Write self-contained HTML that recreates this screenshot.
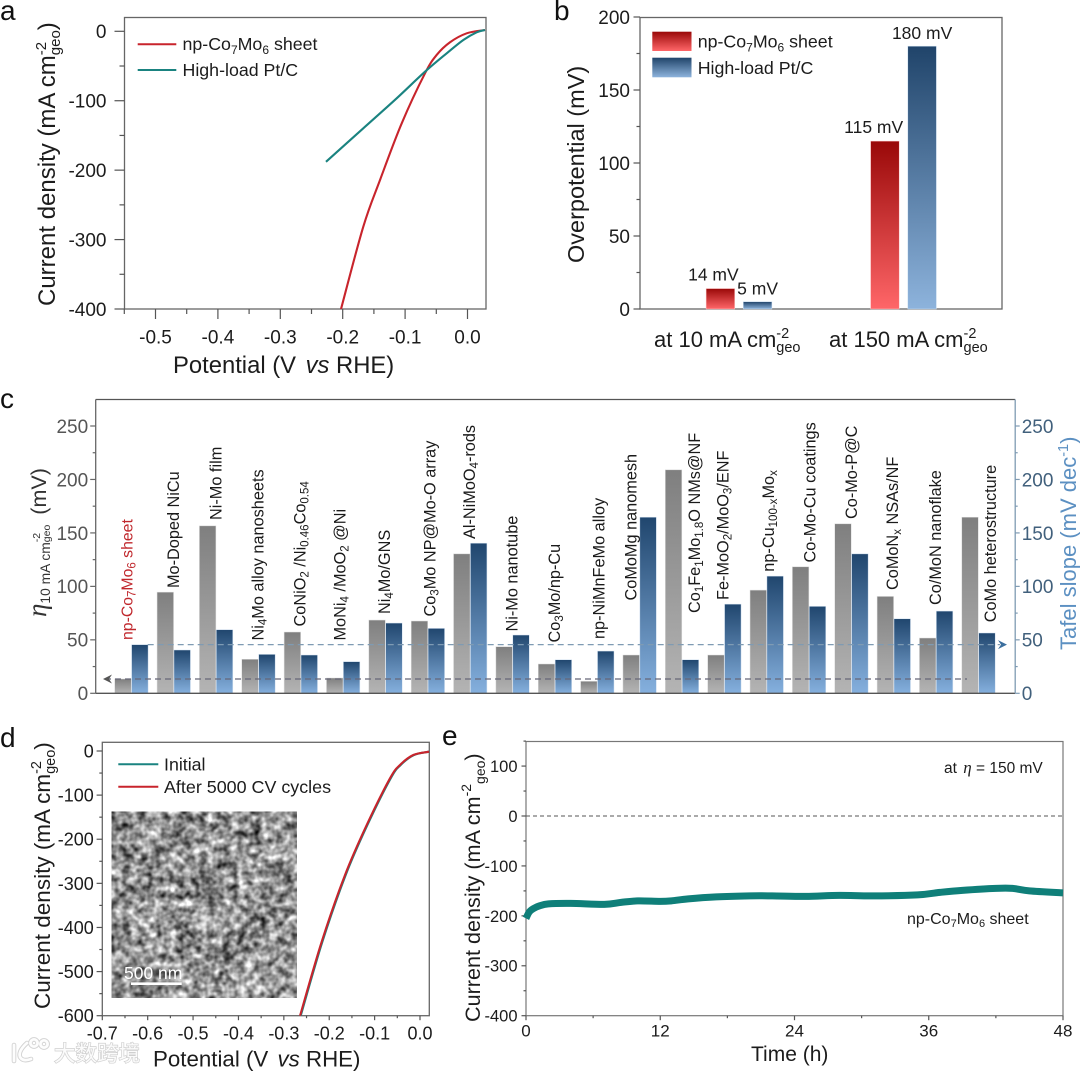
<!DOCTYPE html>
<html lang="en">
<head>
<meta charset="utf-8">
<title>Electrocatalyst performance panels</title>
<style>
html,body{margin:0;padding:0;background:#fff;}
svg{display:block;font-family:"Liberation Sans","Noto Sans CJK SC",sans-serif;fill:#1c1c1c;}
.cl{font-size:16.3px;fill:#1a1a1a;}
.pl{font-size:28px;fill:#111;}
.leg{font-size:17.8px;}
</style>
</head>
<body>
<svg id="figure" width="1080" height="1072" viewBox="0 0 1080 1072" xmlns="http://www.w3.org/2000/svg">
<defs>
<linearGradient id="gRed" x1="0" y1="0" x2="0" y2="1"><stop offset="0" stop-color="#990808"/><stop offset="1" stop-color="#ff6668"/></linearGradient>
<linearGradient id="gBlue" x1="0" y1="0" x2="0" y2="1"><stop offset="0" stop-color="#20446a"/><stop offset="1" stop-color="#8db3dc"/></linearGradient>
<linearGradient id="gGray" x1="0" y1="0" x2="0" y2="1"><stop offset="0" stop-color="#7f7f7f"/><stop offset="1" stop-color="#b4b4b4"/></linearGradient>
<linearGradient id="gBlueC" x1="0" y1="0" x2="0" y2="1"><stop offset="0" stop-color="#20466e"/><stop offset="1" stop-color="#85b0de"/></linearGradient>
<filter id="sem" x="0" y="0" width="100%" height="100%" color-interpolation-filters="sRGB">
<feTurbulence type="fractalNoise" baseFrequency="0.13" numOctaves="2" seed="11" result="fine"/>
<feTurbulence type="fractalNoise" baseFrequency="0.03" numOctaves="2" seed="4" result="coarse"/>
<feComposite in="fine" in2="coarse" operator="arithmetic" k1="0" k2="0.75" k3="0.25" k4="0"/>
<feColorMatrix type="matrix" values="1.7 0 0 0 -0.28  1.7 0 0 0 -0.28  1.7 0 0 0 -0.28  0 0 0 0 1"/>
</filter>
</defs>
<rect x="0" y="0" width="1080" height="1072" fill="#fff"/>

<text class="pl" x="0" y="20">a</text>
<text class="pl" x="554" y="20">b</text>
<text class="pl" x="0" y="408">c</text>
<text class="pl" x="0" y="747">d</text>
<text class="pl" x="442" y="745">e</text>

<g id="panelA">
<text transform="translate(55,306) rotate(-90)" font-size="24">Current density (mA cm<tspan dy="-9" font-size="15">-2</tspan><tspan dx="-13.3" dy="14" font-size="15">geo</tspan><tspan dy="-5">)</tspan></text>
<text x="173" y="373" font-size="23.8">Potential (V <tspan dx="3" font-style="italic">vs</tspan> RHE)</text>
<line x1="137.7" y1="44.3" x2="176.3" y2="44.3" stroke="#c8242c" stroke-width="2"/>
<line x1="137.7" y1="70" x2="176.3" y2="70" stroke="#1a8380" stroke-width="2"/>
<text class="leg" x="182.5" y="50">np-Co<tspan dy="4" font-size="12">7</tspan><tspan dy="-4">Mo</tspan><tspan dy="4" font-size="12">6</tspan><tspan dy="-4"> sheet</tspan></text>
<text class="leg" x="182.5" y="76">High-load Pt/C</text>
</g>

<g id="panelB">
<text transform="translate(584,263) rotate(-90)" font-size="23.5">Overpotential (mV)</text>
<rect x="652.3" y="31.7" width="39.2" height="19.3" fill="url(#gRed)"/>
<rect x="652.3" y="57.7" width="39.2" height="19.6" fill="url(#gBlue)"/>
<text class="leg" x="697.7" y="47.5">np-Co<tspan dy="4" font-size="12">7</tspan><tspan dy="-4">Mo</tspan><tspan dy="4" font-size="12">6</tspan><tspan dy="-4"> sheet</tspan></text>
<text class="leg" x="697.7" y="74">High-load Pt/C</text>
<text x="654" y="347" font-size="22">at 10 mA cm<tspan dy="-9" font-size="14.5">-2</tspan><tspan dx="-12.9" dy="14" font-size="14.5">geo</tspan></text>
<text x="829" y="347" font-size="22">at 150 mA cm<tspan dy="-9" font-size="14.5">-2</tspan><tspan dx="-12.9" dy="14" font-size="14.5">geo</tspan></text>
</g>

<g id="panelC">
<text transform="translate(46,617) rotate(-90)" font-size="21.5" fill="#333"><tspan font-family="Liberation Serif" font-style="italic" font-size="27">&#951;</tspan><tspan dy="4" font-size="13.8">10 mA cm</tspan><tspan dy="-10" font-size="10.5">-2</tspan><tspan dx="-9.3" dy="10" font-size="10.5">geo</tspan><tspan dy="-4" dx="10">(mV)</tspan></text>
<text transform="translate(1076,650) rotate(-90)" font-size="22" fill="#5c90c2">Tafel slope (mV dec<tspan dy="-8" font-size="14.5">-1</tspan><tspan dy="8">)</tspan></text>
<g id="cBars"></g>
<g id="cLabels">
<text class="cl" transform="translate(132.6,640) rotate(-90)" style="fill:#c0282d;font-size:15.8px">np-Co<tspan dy="3" font-size="11.5">7</tspan><tspan dy="-3">Mo</tspan><tspan dy="3" font-size="11.5">6</tspan><tspan dy="-3"> sheet</tspan></text>
<text class="cl" transform="translate(179,588) rotate(-90)">Mo-Doped NiCu</text>
<text class="cl" transform="translate(221.4,520) rotate(-90)">Ni-Mo film</text>
<text class="cl" transform="translate(263.4,640.5) rotate(-90)">Ni<tspan dy="3" font-size="11.5">4</tspan><tspan dy="-3">Mo alloy nanosheets</tspan></text>
<text class="cl" transform="translate(305.4,626.5) rotate(-90)">CoNiO<tspan dy="3" font-size="11.5">2</tspan><tspan dy="-3"> /Ni</tspan><tspan dy="3" font-size="11.5">0.46</tspan><tspan dy="-3">Co</tspan><tspan dy="3" font-size="11.5">0.54</tspan></text>
<text class="cl" transform="translate(345.4,640.5) rotate(-90)">MoNi<tspan dy="3" font-size="11.5">4</tspan><tspan dy="-3"> /MoO</tspan><tspan dy="3" font-size="11.5">2</tspan><tspan dy="-3"> @Ni</tspan></text>
<text class="cl" transform="translate(390,614) rotate(-90)">Ni<tspan dy="3" font-size="11.5">4</tspan><tspan dy="-3">Mo/GNS</tspan></text>
<text class="cl" transform="translate(435.6,616.5) rotate(-90)">Co<tspan dy="3" font-size="11.5">3</tspan><tspan dy="-3">Mo NP@Mo-O array</tspan></text>
<text class="cl" transform="translate(475,539) rotate(-90)">Al-NiMoO<tspan dy="3" font-size="11.5">4</tspan><tspan dy="-3">-rods</tspan></text>
<text class="cl" transform="translate(517.6,631.5) rotate(-90)">Ni-Mo nanotube</text>
<text class="cl" transform="translate(560,642.5) rotate(-90)">Co<tspan dy="3" font-size="11.5">3</tspan><tspan dy="-3">Mo/np-Cu</tspan></text>
<text class="cl" transform="translate(604.4,639) rotate(-90)">np-NiMnFeMo alloy</text>
<text class="cl" transform="translate(636.4,600.5) rotate(-90)">CoMoMg nanomesh</text>
<text class="cl" transform="translate(700,613) rotate(-90)">Co<tspan dy="3" font-size="11.5">1</tspan><tspan dy="-3">Fe</tspan><tspan dy="3" font-size="11.5">1</tspan><tspan dy="-3">Mo</tspan><tspan dy="3" font-size="11.5">1.8</tspan><tspan dy="-3">O NMs@NF</tspan></text>
<text class="cl" transform="translate(728.7,600) rotate(-90)">Fe-MoO<tspan dy="3" font-size="11.5">2</tspan><tspan dy="-3">/MoO</tspan><tspan dy="3" font-size="11.5">3</tspan><tspan dy="-3">/ENF</tspan></text>
<text class="cl" transform="translate(774,571.7) rotate(-90)">np-Cu<tspan dy="3" font-size="11.5">100-x</tspan><tspan dy="-3">Mo</tspan><tspan dy="3" font-size="11.5">x</tspan></text>
<text class="cl" transform="translate(815.5,562.5) rotate(-90)">Co-Mo-Cu coatings</text>
<text class="cl" transform="translate(856.8,519) rotate(-90)">Co-Mo-P@C</text>
<text class="cl" transform="translate(898,590) rotate(-90)">CoMoN<tspan dy="3" font-size="11.5">x</tspan><tspan dy="-3"> NSAs/NF</tspan></text>
<text class="cl" transform="translate(941,605) rotate(-90)">Co/MoN nanoflake</text>
<text class="cl" transform="translate(996,622.3) rotate(-90)">CoMo heterostructure</text>
</g>
</g>

<g id="panelD">
<text transform="translate(50,1009) rotate(-90)" font-size="22.5">Current density (mA cm<tspan dy="-9" font-size="14.5">-2</tspan><tspan dx="-12.9" dy="14" font-size="14.5">geo</tspan><tspan dy="-5">)</tspan></text>
<text x="153" y="1066.5" font-size="22.3">Potential (V <tspan dx="3" font-style="italic">vs</tspan> RHE)</text>
<rect x="111.7" y="811.7" width="185" height="186" fill="#999" filter="url(#sem)"/>
<line x1="131" y1="983.7" x2="181.7" y2="983.7" stroke="#fff" stroke-width="2.6"/>
<text x="124" y="979" font-size="17.5" style="fill:#fff">500 nm</text>
<line x1="118.3" y1="764.3" x2="158.3" y2="764.3" stroke="#1a8380" stroke-width="2"/>
<line x1="118.3" y1="786.7" x2="158.3" y2="786.7" stroke="#c8242c" stroke-width="2"/>
<text x="164" y="770.5" font-size="17.8">Initial</text>
<text x="164" y="793" font-size="17.9">After 5000 CV cycles</text>
</g>

<g id="panelE">
<text transform="translate(480,1022) rotate(-90)" font-size="21.6">Current density (mA cm<tspan dy="-9" font-size="14">-2</tspan><tspan dy="14" font-size="14">geo</tspan><tspan dy="-5">)</tspan></text>
<text x="751" y="1061" font-size="21">Time (h)</text>
<text x="944" y="773" font-size="15.5">at <tspan font-family="Liberation Serif" font-style="italic" font-size="17" dx="2">&#951;</tspan> = 150 mV</text>
<text x="907" y="924" font-size="16">np-Co<tspan dy="3" font-size="11">7</tspan><tspan dy="-3">Mo</tspan><tspan dy="3" font-size="11">6</tspan><tspan dy="-3"> sheet</tspan></text>
</g>

<g>
<g fill="none" stroke="#d2d2d2" stroke-width="4.6" stroke-linecap="round">
<path d="M14 1045 L14 1061"/><path d="M27 1043 Q18 1051 20 1057 Q23 1062 31 1059"/>
<circle cx="34" cy="1043" r="3.6"/><circle cx="44" cy="1044" r="3.6"/>
</g>
<g fill="none" stroke="#fdfdfd" stroke-width="2.8" stroke-linecap="round">
<path d="M14 1045 L14 1061"/><path d="M27 1043 Q18 1051 20 1057 Q23 1062 31 1059"/>
<circle cx="34" cy="1043" r="3.6"/><circle cx="44" cy="1044" r="3.6"/>
</g>
<text x="54" y="1061" font-size="21.5" style="fill:#fbfbfb;stroke:#d0d0d0;stroke-width:1.4;paint-order:stroke;font-family:'Liberation Sans','Noto Sans CJK SC',sans-serif">大数跨境</text>
</g>
</svg>

<script>
// Panel a values
const aRedVolts = [-0.2027,-0.167,-0.1402,-0.1054,-0.0681,-0.0494,-0.028,-0.0013,0.028];
const aRedCurrent = [-400,-281.4,-214.2,-132.5,-60.5,-34.1,-15.8,-2.9,1.9];
const aPtVolts = [-0.2268,-0.167,-0.1135,-0.0681,-0.0333,-0.0067,0.0147,0.028];
const aPtCurrent = [-188,-139.7,-96.5,-58.2,-31.7,-12.5,-1.4,1.9];
const aXTickValues = [-0.5,-0.4,-0.3,-0.2,-0.1,0];
const aXTickLabels = ['-0.5','-0.4','-0.3','-0.2','-0.1','0.0'];
const aXMinor = [-0.55,-0.45,-0.35,-0.25,-0.15,-0.05];
const aYTickValues = [0,-100,-200,-300,-400];
const aYMinor = [-50,-150,-250,-350];

// Panel b values
const bCategories = ['at 10 mA cm-2 geo','at 150 mA cm-2 geo'];
const bCoValues = [14,115];
const bPtValues = [5,180];
const bYTickValues = [0,50,100,150,200];
const bYMinor = [25,75,125,175];

// Panel c values
const cCategories = ['np-Co7Mo6 sheet','Mo-Doped NiCu','Ni-Mo film','Ni4Mo alloy nanosheets','CoNiO2/Ni0.46Co0.54','MoNi4/MoO2@Ni','Ni4Mo/GNS','Co3Mo NP@Mo-O array','Al-NiMoO4-rods','Ni-Mo nanotube','Co3Mo/np-Cu','np-NiMnFeMo alloy','CoMoMg nanomesh','Co1Fe1Mo1.8O NMs@NF','Fe-MoO2/MoO3/ENF','np-Cu100-xMox','Co-Mo-Cu coatings','Co-Mo-P@C','CoMoNx NSAs/NF','Co/MoN nanoflake','CoMo heterostructure'];
const cOverpotential = [13.4,94.6,156.6,31.8,57.3,14.3,68.5,67.6,130.4,43.6,27.4,11.2,35.8,209,35.8,96.5,118.3,158.5,90.6,51.7,164.7];
const cTafel = [45.5,40.5,59.5,36.4,35.8,29.6,65.7,60.7,140.4,54.5,31.4,39.5,164.7,31.4,83.4,109.6,81.3,130.4,69.7,76.9,56.4];
const cYTickValues = [0,50,100,150,200,250];
const cYMinor = [25,75,125,175,225];

// Panel d values
const dInitialVolts = [-0.2628,-0.215,-0.1637,-0.1159,-0.0646,-0.0426,-0.0133,0.02];
const dInitialCurrent = [-600,-432,-281,-167.7,-61.9,-31.7,-9.1,-1.6];
const dCycledVolts = [-0.2643,-0.2165,-0.1652,-0.1174,-0.0661,-0.0441,-0.0148,0.02];
const dCycledCurrent = [-600,-432,-281,-167.7,-61.9,-31.7,-9.1,-1.6];
const dXTickValues = [-0.7,-0.6,-0.5,-0.4,-0.3,-0.2,-0.1,0];
const dXTickLabels = ['-0.7','-0.6','-0.5','-0.4','-0.3','-0.2','-0.1','0.0'];
const dXMinor = [-0.65,-0.55,-0.45,-0.35,-0.25,-0.15,-0.05];
const dYTickValues = [0,-100,-200,-300,-400,-500,-600];
const dYMinor = [-50,-150,-250,-350,-450,-550];

// Panel e values
const eHours = [0,0.3,0.7,1.2,2,4,7,8.5,10,12,13,14.5,17,20,22,25,28,31,35,37,39,42,43.5,45,48];
const eCurrent = [-205,-192,-185,-180,-176,-175,-177,-173,-170,-171,-170,-166,-162,-160,-160,-161,-159,-160,-158,-153,-149,-145,-145,-150,-154];
const eXTickValues = [0,12,24,36,48];
const eXMinor = [6,18,30,42];
const eYTickValues = [100,0,-100,-200,-300,-400];
const eYMinor = [150,50,-50,-150,-250,-350];

const SVG_NS = 'http://www.w3.org/2000/svg';

function mk(tag, attrs, parent) {
  const node = document.createElementNS(SVG_NS, tag);
  for (const key in attrs) node.setAttribute(key, attrs[key]);
  parent.appendChild(node);
  return node;
}

function linear(d0, d1, r0, r1) {
  return function (v) { return r0 + (v - d0) * (r1 - r0) / (d1 - d0); };
}

function smoothPath(xs, ys, sx, sy) {
  const p = xs.map(function (x, i) { return [sx(x), sy(ys[i])]; });
  let d = 'M' + p[0][0].toFixed(2) + ' ' + p[0][1].toFixed(2);
  for (let i = 0; i < p.length - 1; i++) {
    const a = p[Math.max(i - 1, 0)], b = p[i], c = p[i + 1], e = p[Math.min(i + 2, p.length - 1)];
    const c1x = b[0] + (c[0] - a[0]) / 6, c1y = b[1] + (c[1] - a[1]) / 6;
    const c2x = c[0] - (e[0] - b[0]) / 6, c2y = c[1] - (e[1] - b[1]) / 6;
    d += 'C' + c1x.toFixed(2) + ' ' + c1y.toFixed(2) + ' ' + c2x.toFixed(2) + ' ' + c2y.toFixed(2) + ' ' + c[0].toFixed(2) + ' ' + c[1].toFixed(2);
  }
  return d;
}

function drawFrame(parent, x0, y0, x1, y1, color, width) {
  const frame = mk('rect', {x: x0, y: y0, width: x1 - x0, height: y1 - y0, fill: 'none', stroke: color, 'stroke-width': width}, parent);
  
  
}

function drawTicks(parent, o) {
  o.values.forEach(function (v, i) {
    const pos = o.scale(v);
    const dir = o.orient === 'left' ? -1 : 1;
    const attrs = o.orient === 'bottom'
      ? {x1: pos, x2: pos, y1: o.at, y2: o.at + o.len}
      : {y1: pos, y2: pos, x1: o.at, x2: o.at + dir * o.len};
    attrs.stroke = o.color || '#555';
    attrs['stroke-width'] = 1.2;
    const tick = mk('line', attrs, parent);
    
    
    if (o.labels) {
      const tAttrs = o.orient === 'bottom'
        ? {x: pos, y: o.at + o.gap, 'text-anchor': 'middle'}
        : {x: o.at + dir * o.gap, y: pos + o.size * 0.36, 'text-anchor': o.orient === 'left' ? 'end' : 'start'};
      tAttrs['font-size'] = o.size;
      tAttrs.style = 'fill:' + (o.textColor || '#1c1c1c');
      const label = mk('text', tAttrs, parent);
      
      
      label.textContent = o.labels[i];
    }
  });
}

function drawCurve(parent, xs, ys, sx, sy, color, width, name) {
  const path = mk('path', {d: smoothPath(xs, ys, sx, sy), fill: 'none', stroke: color, 'stroke-width': width, 'stroke-linejoin': 'round'}, parent);
  
  
}

/* Panel a */
(function () {
  const g = document.getElementById('panelA');
  const sx = linear(-0.5, 0, 155.5, 467.5);
  const sy = linear(0, -400, 31.3, 309);
  drawFrame(g, 124.5, 17.5, 486, 309, '#666', 1.3);
  drawTicks(g, {name: 'x-axis', orient: 'bottom', at: 309, len: 10, gap: 34.5, size: 19, values: aXTickValues, labels: aXTickLabels, scale: sx});
  drawTicks(g, {name: 'x-axis-minor', orient: 'bottom', at: 309, len: 5, values: aXMinor, scale: sx});
  drawTicks(g, {name: 'y-axis', orient: 'left', at: 124.5, len: 10, gap: 18, size: 19, values: aYTickValues, labels: aYTickValues.map(String), scale: sy});
  drawTicks(g, {name: 'y-axis-minor', orient: 'left', at: 124.5, len: 5, values: aYMinor, scale: sy});
  drawCurve(g, aRedVolts, aRedCurrent, sx, sy, '#c8242c', 2.1, 'series-np-co7mo6');
  drawCurve(g, aPtVolts, aPtCurrent, sx, sy, '#1a8380', 2.1, 'series-pt-c');
})();

/* Panel b */
(function () {
  const g = document.getElementById('panelB');
  const sy = linear(0, 200, 309, 17);
  const groupCentre = linear(0, 1, 739, 903.5);
  const barW = 28.6, offset = 18.6;
  drawFrame(g, 640, 17.5, 1002, 309, '#666', 1.3);
  drawTicks(g, {name: 'y-axis', orient: 'left', at: 640, len: 6.5, gap: 10, size: 19, values: bYTickValues, labels: bYTickValues.map(String), scale: sy});
  drawTicks(g, {name: 'y-axis-minor', orient: 'left', at: 640, len: 3.5, values: bYMinor, scale: sy});
  bCategories.forEach(function (cat, i) {
    const cx = groupCentre(i);
    const xCo = cx - offset - barW / 2, xPt = cx + offset - barW / 2;
    const r1 = mk('rect', {x: xCo, y: sy(bCoValues[i]), width: barW, height: 309 - sy(bCoValues[i]), fill: 'url(#gRed)', stroke: '#ffc9c9', 'stroke-width': 0.5}, g);
    
    
    const r2 = mk('rect', {x: xPt, y: sy(bPtValues[i]), width: barW, height: 309 - sy(bPtValues[i]), fill: 'url(#gBlue)', stroke: '#cfe0f2', 'stroke-width': 0.5}, g);
    
    
    const t1 = mk('text', {x: xCo + barW + 4, y: sy(bCoValues[i]) - 8, 'text-anchor': 'end', 'font-size': 17.5}, g);
    
    
    t1.textContent = bCoValues[i] + ' mV';
    const t2 = mk('text', {x: xPt + barW / 2, y: sy(bPtValues[i]) - 7, 'text-anchor': 'middle', 'font-size': 17.5}, g);
    
    
    t2.textContent = bPtValues[i] + ' mV';
  });
})();

/* Panel c */
(function () {
  const g = document.getElementById('panelC');
  const bars = document.getElementById('cBars');
  const sy = linear(0, 250, 693.3, 426);
  const groupX = linear(0, 20, 114.7, 961.8);
  const barW = 16.5;
  cCategories.forEach(function (cat, i) {
    const x = groupX(i);
    const gy = sy(cOverpotential[i]);
    const r1 = mk('rect', {x: x, y: gy, width: barW, height: 693.3 - gy, fill: 'url(#gGray)', stroke: '#dcdcdc', 'stroke-width': 0.5}, bars);
    
    
    const by = sy(cTafel[i]);
    const r2 = mk('rect', {x: x + barW + 0.4, y: by, width: barW, height: 693.3 - by, fill: 'url(#gBlueC)', stroke: '#d5e3f2', 'stroke-width': 0.5}, bars);
    
    
  });
  const dashBlue = sy(cTafel[0]);
  const l1 = mk('line', {x1: groupX(0) + 2 * barW, x2: 1000, y1: dashBlue, y2: dashBlue, stroke: '#7f9bb3', 'stroke-width': 1.3, 'stroke-dasharray': '6 4'}, g);
  
  
  const dashGray = sy(cOverpotential[0]);
  const l2 = mk('line', {x1: 105, x2: 967, y1: dashGray, y2: dashGray, stroke: '#667', 'stroke-width': 1.2, 'stroke-dasharray': '6 4'}, g);
  
  
  const a1 = mk('path', {d: 'M103 ' + dashGray + 'l9 -4.5l-3 4.5l3 4.5z', fill: '#555'}, g);
  
  
  const a2 = mk('path', {d: 'M1007 ' + dashBlue + 'l-9 -4.5l3 4.5l-3 4.5z', fill: '#3c6f9e'}, g);
  
  
  const top = mk('line', {x1: 95.7, x2: 1015.2, y1: 399.5, y2: 399.5, stroke: '#555', 'stroke-width': 1.2}, g);
  
  
  const bottom = mk('line', {x1: 95.7, x2: 1015.2, y1: 693.3, y2: 693.3, stroke: '#555', 'stroke-width': 1.3}, g);
  
  
  const left = mk('line', {x1: 95.7, x2: 95.7, y1: 399.5, y2: 693.3, stroke: '#666', 'stroke-width': 1.3}, g);
  
  
  const right = mk('line', {x1: 1015.2, x2: 1015.2, y1: 399.5, y2: 693.3, stroke: '#7f9bb3', 'stroke-width': 1.3}, g);
  
  
  drawTicks(g, {name: 'left-y-axis', orient: 'left', at: 95.7, len: 5.5, gap: 7.5, size: 19, color: '#666', textColor: '#555', values: cYTickValues, labels: cYTickValues.map(String), scale: sy});
  drawTicks(g, {name: 'left-y-axis-minor', orient: 'left', at: 95.7, len: 3, color: '#666', values: cYMinor, scale: sy});
  drawTicks(g, {name: 'right-y-axis', orient: 'right', at: 1015.2, len: 4.5, gap: 6.5, size: 19, color: '#7f9bb3', textColor: '#41607c', values: cYTickValues, labels: cYTickValues.map(String), scale: sy});
  drawTicks(g, {name: 'right-y-axis-minor', orient: 'right', at: 1015.2, len: 2.5, color: '#7f9bb3', values: cYMinor, scale: sy});
})();

/* Panel d */
(function () {
  const g = document.getElementById('panelD');
  const sx = linear(-0.7, 0, 102.3, 420);
  const sy = linear(0, -600, 751, 1015.7);
  drawFrame(g, 102.3, 742.3, 429.3, 1015.7, '#666', 1.3);
  drawTicks(g, {name: 'x-axis', orient: 'bottom', at: 1015.7, len: 4.5, gap: 24, size: 18, values: dXTickValues, labels: dXTickLabels, scale: sx});
  drawTicks(g, {name: 'x-axis-minor', orient: 'bottom', at: 1015.7, len: 2.5, values: dXMinor, scale: sx});
  drawTicks(g, {name: 'y-axis', orient: 'left', at: 102.3, len: 5.7, gap: 8.5, size: 18, values: dYTickValues, labels: dYTickValues.map(String), scale: sy});
  drawTicks(g, {name: 'y-axis-minor', orient: 'left', at: 102.3, len: 3, values: dYMinor, scale: sy});
  drawCurve(g, dInitialVolts, dInitialCurrent, sx, sy, '#1a8380', 2.1, 'series-initial');
  drawCurve(g, dCycledVolts, dCycledCurrent, sx, sy, '#c8242c', 2.1, 'series-after-cycles');
})();

/* Panel e */
(function () {
  const g = document.getElementById('panelE');
  const sx = linear(0, 48, 526, 1063);
  const sy = linear(0, -400, 816, 1015.7);
  drawFrame(g, 526, 741.5, 1063, 1015.7, '#777', 1.2);
  const zero = mk('line', {x1: 526, x2: 1063, y1: sy(0), y2: sy(0), stroke: '#555', 'stroke-width': 1.1, 'stroke-dasharray': '4 3'}, g);
  
  
  drawTicks(g, {name: 'x-axis', orient: 'bottom', at: 1015.7, len: 4.5, gap: 21, size: 17, values: eXTickValues, labels: eXTickValues.map(String), scale: sx});
  drawTicks(g, {name: 'x-axis-minor', orient: 'bottom', at: 1015.7, len: 2.5, values: eXMinor, scale: sx});
  drawTicks(g, {name: 'y-axis', orient: 'left', at: 526, len: 4.5, gap: 8.5, size: 16.5, values: eYTickValues, labels: eYTickValues.map(String), scale: sy});
  drawTicks(g, {name: 'y-axis-minor', orient: 'left', at: 526, len: 2.5, values: eYMinor, scale: sy});
  drawCurve(g, eHours, eCurrent, sx, sy, '#0f7f79', 7, 'series-np-co7mo6');
})();
</script>
</body>
</html>
